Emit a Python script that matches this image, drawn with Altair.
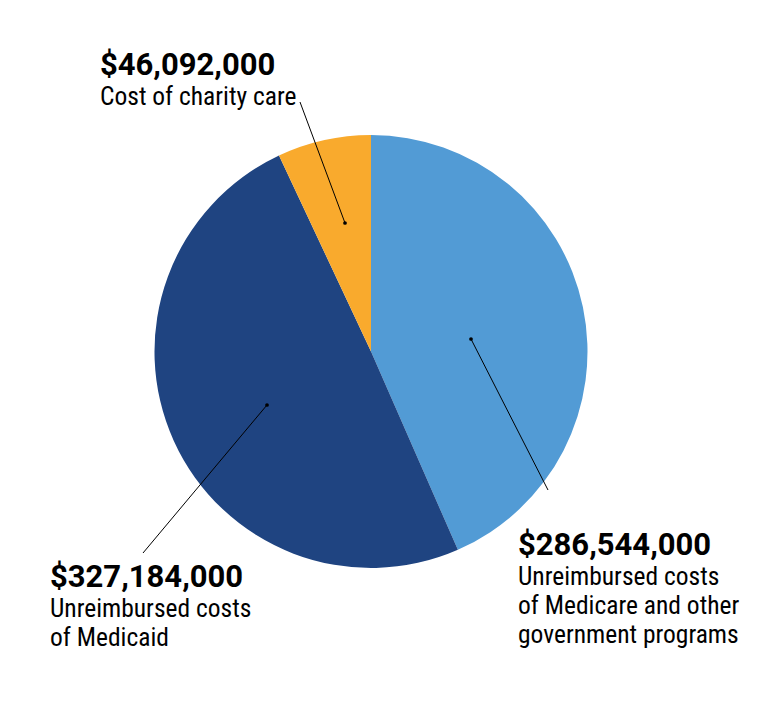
import altair as alt
import pandas as pd

# ---- data ----
categories = [
    "Unreimbursed costs of Medicare and other government programs",
    "Unreimbursed costs of Medicaid",
    "Cost of charity care",
]
values = [286544000, 327184000, 46092000]
colors = ["#529BD5", "#1F4481", "#F9AA2D"]
label_lines = [
    ["Unreimbursed costs", "of Medicare and other", "government programs"],
    ["Unreimbursed costs", "of Medicaid"],
    ["Cost of charity care"],
]

# ---- layout (pixels inside the plot area) ----
W, H = 751, 692
CX, CY, R = 363, 343.5, 216.5
label_pos = [(510, 547), (42, 579), (92, 66.5)]      # left x, baseline of number
dot_pos = [(463, 331), (259, 397), (337, 215)]
leader_end = [(540, 482), (135, 545), (292, 94)]
NUM_GAP, LINE_GAP = 30, 29
NUM_FONT = "Roboto"
TXT_FONT = "Roboto Condensed"

pie_df = pd.DataFrame({"category": categories, "value": values, "order": [0, 1, 2]})

pie = alt.Chart(pie_df).mark_arc(radius=R, stroke=None).encode(
    theta=alt.Theta("value:Q", stack=True),
    color=alt.Color("category:N", scale=alt.Scale(domain=categories, range=colors), legend=None),
    order=alt.Order("order:Q"),
    x=alt.value(CX),
    y=alt.value(CY),
)

num_rows, line_rows, dot_rows, rule_rows = [], [], [], []
for i, cat in enumerate(categories):
    lx, ly = label_pos[i]
    num_rows.append({"x": lx, "y": ly, "t": f"${values[i]:,}"})
    for j, line in enumerate(label_lines[i]):
        line_rows.append({"x": lx, "y": ly + NUM_GAP + j * LINE_GAP, "t": line})
    dot_rows.append({"x": dot_pos[i][0], "y": dot_pos[i][1]})
    rule_rows.append({"x": dot_pos[i][0], "y": dot_pos[i][1],
                      "x2": leader_end[i][0], "y2": leader_end[i][1]})

X = lambda f: alt.X(f"{f}:Q", scale=None, axis=None)
Y = lambda f: alt.Y(f"{f}:Q", scale=None, axis=None)

nums = alt.Chart(pd.DataFrame(num_rows)).mark_text(
    align="left", baseline="alphabetic", font=NUM_FONT, fontSize=31, fontWeight="bold", color="#000000"
).encode(x=X("x"), y=Y("y"), text="t:N")

lines = alt.Chart(pd.DataFrame(line_rows)).mark_text(
    align="left", baseline="alphabetic", font=TXT_FONT, fontSize=25.5, color="#000000"
).encode(x=X("x"), y=Y("y"), text="t:N")

rules = alt.Chart(pd.DataFrame(rule_rows)).mark_rule(color="#000000", strokeWidth=1).encode(
    x=X("x"), y=Y("y"), x2="x2:Q", y2="y2:Q"
)

dots = alt.Chart(pd.DataFrame(dot_rows)).mark_circle(size=14, color="#000000", opacity=1).encode(
    x=X("x"), y=Y("y")
)

chart = alt.layer(pie, rules, dots, nums, lines).properties(
    width=W, height=H, padding=0, autosize=alt.AutoSizeParams(type="none")
).configure_view(stroke=None)

chart.save("out.html", embed_options={"renderer": "svg", "actions": False})
